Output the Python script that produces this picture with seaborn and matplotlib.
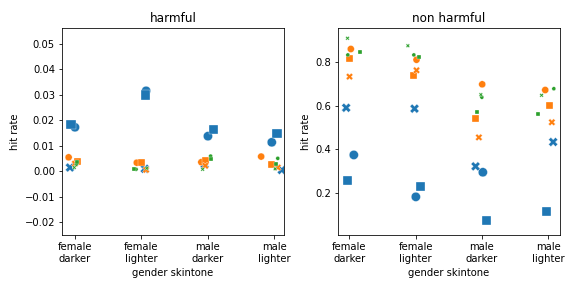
import numpy as np
import pandas as pd
import matplotlib
matplotlib.use('Agg')
import matplotlib.pyplot as plt
import seaborn as sns

# categories on the x axis
groups = ['female darker', 'female lighter', 'male darker', 'male lighter']
group_labels = ['female\ndarker', 'female\nlighter', 'male\ndarker', 'male\nlighter']

# hue/size = model, style = prompt set
models = ['large', 'large', 'large', 'base', 'base', 'base', 'small', 'small', 'small']
prompts = ['p1', 'p2', 'p3', 'p1', 'p2', 'p3', 'p1', 'p2', 'p3']

# hit rates, one row per (model, prompt), one column per group
harmful_rates = [
    [0.0173, 0.0316, 0.0138, 0.0114],
    [0.0185, 0.0300, 0.0163, 0.0148],
    [0.0015, 0.0010, 0.0027, 0.0005],
    [0.0055, 0.0034, 0.0036, 0.0058],
    [0.0040, 0.0033, 0.0042, 0.0026],
    [0.0030, 0.0006, 0.0022, 0.0015],
    [0.0028, 0.0008, 0.0060, 0.0051],
    [0.0035, 0.0010, 0.0047, 0.0028],
    [0.0015, 0.0012, 0.0008, 0.0010],
]
nonharmful_rates = [
    [0.375, 0.184, 0.296, np.nan],
    [0.257, 0.232, 0.075, 0.118],
    [0.590, 0.586, 0.323, 0.434],
    [0.858, 0.809, 0.697, 0.671],
    [0.815, 0.739, 0.543, 0.601],
    [0.732, 0.761, 0.455, 0.524],
    [0.831, 0.831, 0.638, 0.677],
    [0.843, 0.820, 0.571, 0.563],
    [0.907, 0.873, 0.650, 0.647],
]

# horizontal jitter of each point (in category units)
harmful_jitter = [
    [0.00, 0.07, 0.00, -0.04],
    [-0.06, 0.065, 0.08, 0.04],
    [-0.075, 0.05, -0.05, 0.11],
    [-0.095, -0.07, -0.10, -0.20],
    [0.045, 0.00, -0.04, -0.04],
    [0.00, 0.07, -0.04, 0.05],
    [0.02, -0.08, 0.04, 0.05],
    [0.03, -0.11, 0.05, 0.02],
    [-0.01, 0.08, -0.08, 0.01],
]
nonharmful_jitter = [
    [0.07, 0.005, 0.015, 0.0],
    [-0.03, 0.075, 0.07, -0.03],
    [-0.045, -0.015, -0.095, 0.075],
    [0.025, 0.015, 0.005, -0.045],
    [0.01, -0.03, -0.09, 0.025],
    [0.005, 0.015, -0.045, 0.055],
    [-0.02, -0.025, 0.0, 0.085],
    [0.165, 0.06, -0.075, -0.15],
    [-0.025, -0.115, -0.015, -0.10],
]


def long_form(rates, jitter):
    rows = []
    for i in range(len(models)):
        for j, g in enumerate(groups):
            rows.append({'model': models[i], 'prompt': prompts[i], 'group': g,
                         'x': j + jitter[i][j], 'hit rate': rates[i][j]})
    return pd.DataFrame(rows).dropna()


palette = {'large': '#1f77b4', 'base': '#ff7f0e', 'small': '#2ca02c'}
sizes = {'large': 85, 'base': 50, 'small': 16}
markers = {'p1': 'o', 'p2': 's', 'p3': 'X'}

fig, axes = plt.subplots(1, 2, figsize=(8, 4), dpi=72)

panels = [('harmful', harmful_rates, harmful_jitter, (-0.195, 3.143), (-0.025, 0.0563)),
          ('non harmful', nonharmful_rates, nonharmful_jitter, (-0.17, 3.176), (0.010, 0.954))]

for ax, (title, rates, jitter, xlim, ylim) in zip(axes, panels):
    df = long_form(rates, jitter)
    sns.scatterplot(data=df, x='x', y='hit rate', hue='model', size='model', style='prompt',
                    palette=palette, sizes=sizes, markers=markers, legend=False, ax=ax)
    ax.set_xticks(range(len(groups)))
    ax.set_xticklabels(group_labels)
    ax.set_xlabel('gender skintone')
    ax.set_ylabel('hit rate')
    ax.set_title(title)
    ax.set_xlim(*xlim)
    ax.set_ylim(*ylim)

plt.subplots_adjust(left=0.1076, right=0.972, top=0.903, bottom=0.184, wspace=0.243)
plt.savefig('out.png', dpi=72)
